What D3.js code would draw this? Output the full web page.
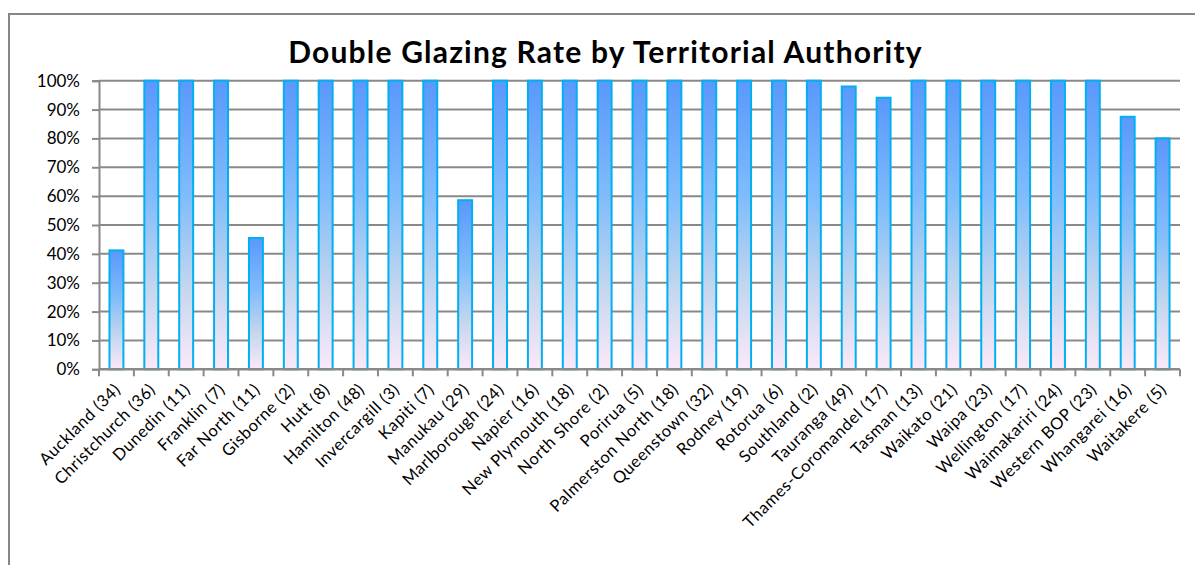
<!DOCTYPE html>
<html>
<head>
<meta charset="utf-8">
<script src="https://cdn.jsdelivr.net/npm/d3@7/dist/d3.min.js"></script>
<style>
  html, body { margin: 0; padding: 0; background: #fff; }
  svg { display: block; }
  text { font-family: Lato, "Open Sans", sans-serif; fill: #000; }
</style>
</head>
<body>
<svg id="chart" width="1195" height="565"></svg>
<script>
// territorial authorities, (n) = number of houses in sample
const authorities = [
  "Auckland (34)", "Christchurch (36)", "Dunedin (11)", "Franklin (7)", "Far North (11)",
  "Gisborne (2)", "Hutt (8)", "Hamilton (48)", "Invercargill (3)", "Kapiti (7)",
  "Manukau (29)", "Marlborough (24)", "Napier (16)", "New Plymouth (18)", "North Shore (2)",
  "Porirua (5)", "Palmerston North (18)", "Queenstown (32)", "Rodney (19)", "Rotorua (6)",
  "Southland (2)", "Tauranga (49)", "Thames-Coromandel (17)", "Tasman (13)", "Waikato (21)",
  "Waipa (23)", "Wellington (17)", "Waimakariri (24)", "Western BOP (23)", "Whangarei (16)",
  "Waitakere (5)"
];

// double glazing rate, %
const glazingRate = [
  41.2, 100, 100, 100, 45.5,
  100, 100, 100, 100, 100,
  58.6, 100, 100, 100, 100,
  100, 100, 100, 100, 100,
  100, 98, 94.1, 100, 100,
  100, 100, 100, 100, 87.5,
  80
];

const yTicks = [0, 10, 20, 30, 40, 50, 60, 70, 80, 90, 100];

const titleText = "Double Glazing Rate by Territorial Authority";

const svg = d3.select("#chart");

// plot area
const plotLeft = 99, plotRight = 1180, plotTop = 80.7, plotBottom = 369.3;

const x = d3.scaleBand()
  .domain(authorities)
  .range([plotLeft, plotRight])
  .paddingInner(0.6)
  .paddingOuter(0.3);

const y = d3.scaleLinear()
  .domain([0, 100])
  .range([plotBottom, plotTop]);

// outer chart frame (right and bottom edges fall off the picture)
svg.append("path")
  .attr("d", `M9,565 V14 H1195`)
  .attr("fill", "none")
  .attr("stroke", "#868686")
  .attr("stroke-width", 2);

// gradient for bars, per bar
const defs = svg.append("defs");
const grad = defs.append("linearGradient")
  .attr("id", "barFill")
  .attr("x1", 0).attr("y1", 0).attr("x2", 0).attr("y2", 1);
grad.append("stop").attr("offset", "0%").attr("stop-color", "#5a98fc");
grad.append("stop").attr("offset", "40%").attr("stop-color", "#80bcfb");
grad.append("stop").attr("offset", "70%").attr("stop-color", "#c0d5ee");
grad.append("stop").attr("offset", "100%").attr("stop-color", "#fbe9f8");

// gridlines
svg.append("g")
  .selectAll("line")
  .data(yTicks.filter(d => d > 0))
  .join("line")
  .attr("x1", plotLeft).attr("x2", plotRight)
  .attr("y1", d => y(d)).attr("y2", d => y(d))
  .attr("stroke", "#898989")
  .attr("stroke-width", 2);

// y axis
const yAxis = svg.append("g")
  .attr("transform", `translate(${plotLeft},0)`)
  .call(d3.axisLeft(y).tickValues(yTicks).tickFormat(d => d + "%").tickSize(7).tickPadding(12));
yAxis.select(".domain").attr("stroke", "#898989").attr("stroke-width", 2);
yAxis.selectAll(".tick line").attr("stroke", "#898989").attr("stroke-width", 2);
yAxis.selectAll(".tick text").style("font-size", "17px").attr("fill", "#000");

// bars
svg.append("g")
  .selectAll("rect")
  .data(glazingRate)
  .join("rect")
  .attr("x", (d, i) => x(authorities[i]))
  .attr("y", d => y(d))
  .attr("width", x.bandwidth())
  .attr("height", d => plotBottom - y(d))
  .attr("fill", "url(#barFill)")
  .attr("stroke", "#00b0f0")
  .attr("stroke-width", 2);

// x axis line and ticks at category boundaries
svg.append("line")
  .attr("x1", plotLeft).attr("x2", plotRight)
  .attr("y1", plotBottom).attr("y2", plotBottom)
  .attr("stroke", "#898989")
  .attr("stroke-width", 2.5);

const step = x.step();
svg.append("g")
  .selectAll("line")
  .data(d3.range(authorities.length + 1))
  .join("line")
  .attr("x1", i => plotLeft + i * step).attr("x2", i => plotLeft + i * step)
  .attr("y1", plotBottom).attr("y2", plotBottom + 7)
  .attr("stroke", "#898989")
  .attr("stroke-width", 2);

// category labels, rotated
svg.append("g")
  .selectAll("text")
  .data(authorities)
  .join("text")
  .attr("transform", d => `translate(${x(d) + x.bandwidth() / 2 + 1},${plotBottom + 17}) rotate(-45)`)
  .attr("text-anchor", "end")
  .attr("dy", "0.35em")
  .style("font-size", "16.5px")
  .style("letter-spacing", "0.6px")
  .text(d => d);

// title
svg.append("text")
  .attr("x", 605.5)
  .attr("y", 63)
  .attr("text-anchor", "middle")
  .style("font-size", "30px")
  .style("font-weight", "bold")
  .style("letter-spacing", "1.2px")
  .text(titleText);
</script>
</body>
</html>
